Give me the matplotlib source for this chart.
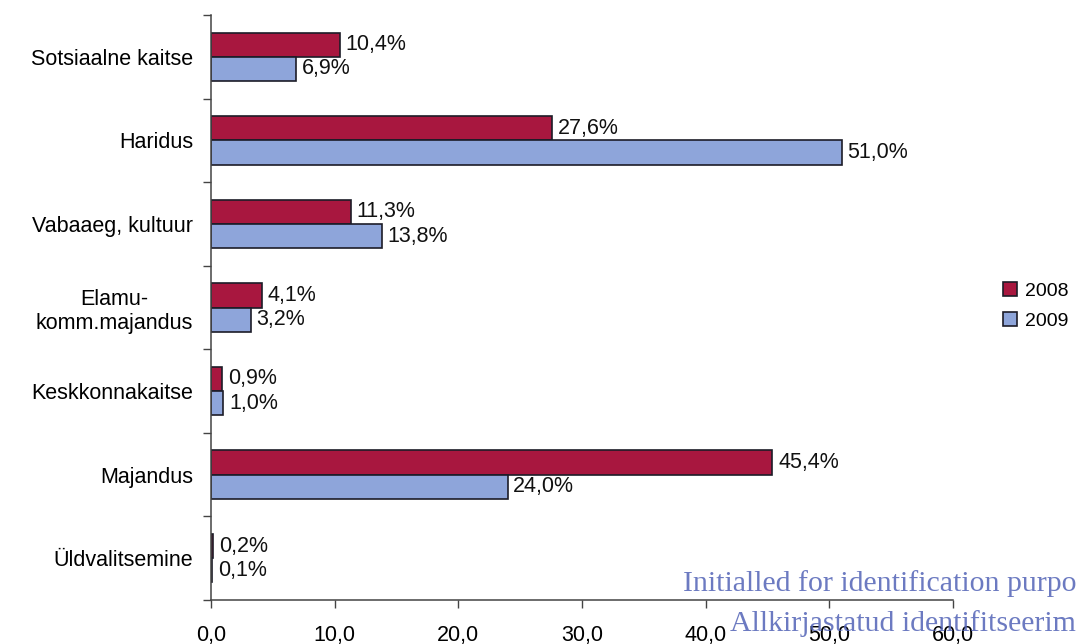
import numpy as np
import matplotlib.pyplot as plt

categories = ["Sotsiaalne kaitse", "Haridus", "Vabaaeg, kultuur", "Elamu-\nkomm.majandus",
              "Keskkonnakaitse", "Majandus", "Üldvalitsemine"]
share_2008 = [10.4, 27.6, 11.3, 4.1, 0.9, 45.4, 0.2]
share_2009 = [6.9, 51.0, 13.8, 3.2, 1.0, 24.0, 0.1]
xticks = [0, 10, 20, 30, 40, 50, 60]

plt.rcParams['font.family'] = ['Liberation Sans', 'DejaVu Sans']

fig = plt.figure(figsize=(10.81, 6.44), dpi=100)
ax = fig.add_axes([0.1952, 0.0683, 0.6864, 0.9084])

y = np.arange(len(categories))
h = 0.29
b1 = ax.barh(y - h / 2, share_2008, height=h, color='#A8173F', edgecolor='#1c1c28', lw=1.2, label='2008')
b2 = ax.barh(y + h / 2, share_2009, height=h, color='#8EA5DA', edgecolor='#1c1c28', lw=1.2, label='2009')

def fmt(v):
    return f"{v:.1f}%".replace('.', ',')

for bars, vals in ((b1, share_2008), (b2, share_2009)):
    for bar, v in zip(bars, vals):
        ax.annotate(fmt(v), (bar.get_width(), bar.get_y() + bar.get_height() / 2),
                    xytext=(4, 0), textcoords='offset points', va='center', ha='left',
                    fontsize=15.5, color='#111111')

ax.set_xlim(0, 60)
ax.set_ylim(len(categories) - 0.5, -0.5)
ax.set_xticks(xticks)
ax.set_xticklabels([f"{t:.1f}".replace('.', ',') for t in xticks], fontsize=15.5)
ax.set_yticks(y)
ax.set_yticklabels(categories, fontsize=15.5)
for lab in ax.get_yticklabels():
    lab.set_multialignment('center')
ax.set_yticks(np.arange(len(categories) + 1) - 0.5, minor=True)
ax.tick_params(axis='y', which='major', length=0, pad=13)
ax.tick_params(axis='y', which='minor', length=6, width=1, color='#444444', direction='out')
ax.tick_params(axis='x', length=6, width=1, color='#444444', pad=12)

for s in ('top', 'right'):
    ax.spines[s].set_visible(False)
for s in ('left', 'bottom'):
    ax.spines[s].set_color('#444444')
    ax.spines[s].set_linewidth(1.1)

fig.legend(handles=[b1, b2], loc='center left', bbox_to_anchor=(0.928, 0.525),
           frameon=False, fontsize=14, handlelength=0.7, handleheight=0.7,
           handletextpad=0.4, labelspacing=0.65, borderpad=0, borderaxespad=0)

# blue identification stamp in the lower right corner (only its left part fits)
fig.text(0.632, 0.083, "Initialled for identification purpo", family='Liberation Serif',
         fontsize=21.5, color='#5263b6', alpha=0.85)
fig.text(0.675, 0.02, "Allkirjastatud identifitseerim", family='Liberation Serif',
         fontsize=21.5, color='#5263b6', alpha=0.85)

fig.savefig('out.png', dpi=100)
